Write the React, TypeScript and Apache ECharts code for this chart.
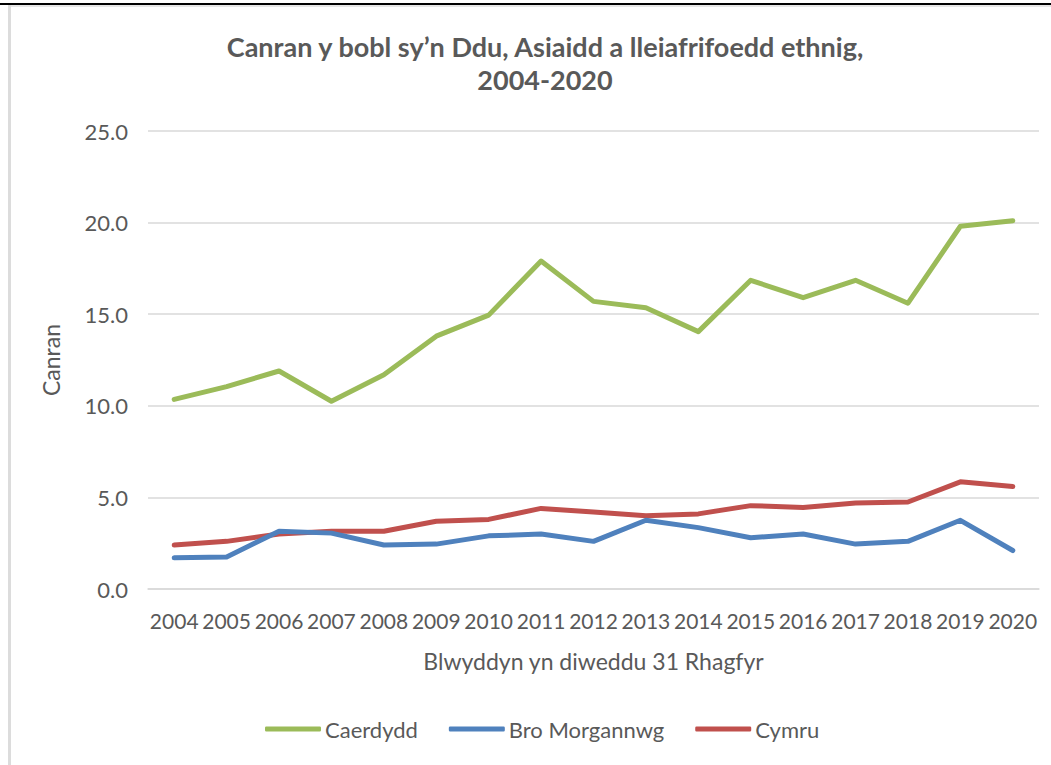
import React, { useEffect, useRef } from "react";
import * as echarts from "echarts";

const years = ["2004", "2005", "2006", "2007", "2008", "2009", "2010", "2011", "2012", "2013", "2014", "2015", "2016", "2017", "2018", "2019", "2020"];
const caerdydd = [10.35, 11.05, 11.9, 10.25, 11.7, 13.8, 14.95, 17.9, 15.7, 15.35, 14.05, 16.85, 15.9, 16.85, 15.6, 19.8, 20.1];
const broMorgannwg = [1.7, 1.75, 3.15, 3.05, 2.4, 2.45, 2.9, 3.0, 2.6, 3.75, 3.35, 2.8, 3.0, 2.45, 2.6, 3.75, 2.1];
const cymru = [2.4, 2.6, 3.0, 3.15, 3.15, 3.7, 3.8, 4.4, 4.2, 4.0, 4.1, 4.55, 4.45, 4.7, 4.75, 5.85, 5.6];

const seriesNames = ["Caerdydd", "Bro Morgannwg", "Cymru"];
const seriesColors = ["#9BBB59", "#4F81BD", "#C0504D"];
const titleText = "Canran y bobl sy\u2019n Ddu, Asiaidd a lleiafrifoedd ethnig,\n2004-2020";
const yName = "Canran";
const xName = "Blwyddyn yn diweddu 31 Rhagfyr";

const FONT = "Lato, 'Open Sans', sans-serif";
const GREY = "#595959";

export default function App() {
  const ref = useRef<HTMLDivElement>(null);
  useEffect(() => {
    document.body.style.margin = "0";
    if (!ref.current) return;
    const chart = echarts.init(ref.current, null, { renderer: "svg" });
    const datasets = [caerdydd, broMorgannwg, cymru];
    chart.setOption({
      animation: false,
      backgroundColor: "#ffffff",
      textStyle: { fontFamily: FONT },
      title: {
        text: titleText,
        left: 540,
        textAlign: "center",
        top: 25,
        textStyle: { fontFamily: FONT, fontSize: 27, fontWeight: "bold", color: GREY, lineHeight: 33 },
      },
      graphic: [
        { type: "rect", shape: { x: 0, y: 3, width: 1051, height: 2 }, style: { fill: "#000000" }, silent: true },
        { type: "rect", shape: { x: 8, y: 5, width: 1043, height: 2 }, style: { fill: "#e6e6e6" }, silent: true },
        { type: "rect", shape: { x: 8, y: 5, width: 3, height: 760 }, style: { fill: "#dcdcdc" }, silent: true },
      ],
      legend: {
        data: seriesNames,
        left: 265,
        top: 718,
        padding: 0,
        icon: "roundRect",
        itemWidth: 56,
        itemHeight: 5,
        itemGap: 31,
        textStyle: { fontFamily: FONT, fontSize: 22, color: GREY, padding: [0, 0, 0, -1] },
      },
      grid: { left: 148, right: 12, top: 131, bottom: 176, containLabel: false },
      xAxis: {
        type: "category",
        data: years,
        boundaryGap: true,
        name: xName,
        nameLocation: "middle",
        nameGap: 60,
        nameTextStyle: { fontFamily: FONT, fontSize: 23, color: GREY },
        axisLine: { show: true, lineStyle: { color: "#d9d9d9", width: 1.5 } },
        axisTick: { show: false },
        axisLabel: { interval: 0, fontFamily: FONT, fontSize: 21, color: GREY, margin: 21 },
      },
      yAxis: {
        type: "value",
        min: 0,
        max: 25,
        interval: 5,
        name: yName,
        nameLocation: "middle",
        nameGap: 86,
        nameRotate: 90,
        nameTextStyle: { fontFamily: FONT, fontSize: 23, color: GREY },
        axisLine: { show: false },
        axisTick: { show: false },
        splitLine: { lineStyle: { color: "#d9d9d9", width: 1.5 } },
        axisLabel: {
          fontFamily: FONT,
          fontSize: 22,
          color: GREY,
          margin: 20,
          formatter: (v: number) => v.toFixed(1),
        },
      },
      series: seriesNames.map((name, i) => ({
        name,
        type: "line",
        data: datasets[i],
        symbol: "none",
        lineStyle: { color: seriesColors[i], width: 5, cap: "round", join: "round" },
        itemStyle: { color: seriesColors[i] },
        z: 3 - i,
      })),
    });
    return () => chart.dispose();
  }, []);
  return <div ref={ref} style={{ position: "absolute", left: 0, top: 0, width: 1051, height: 765 }} />;
}
